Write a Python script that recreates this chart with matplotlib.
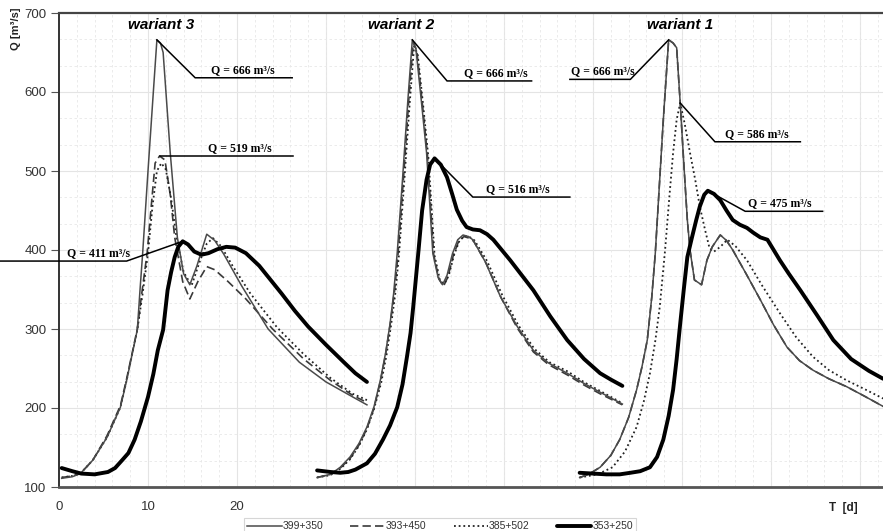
import matplotlib
matplotlib.use("Agg")
import matplotlib.pyplot as plt
import numpy as np
from matplotlib.ticker import MultipleLocator, FixedLocator

# ---------------- data (T [d], Q [m3/s]) ----------------
# wariant 3
w3_t_399 = [0.3, 1.5, 2.4, 3.8, 5.4, 6.9, 7.6, 8.8, 9.1, 9.4, 10.0, 10.6, 11.0, 11.4, 11.7, 12.5, 13.3, 14.0, 14.7, 15.5, 16.6, 17.5, 18.5, 20.5, 23.5, 27.0, 30.0, 33.0, 34.6]
w3_q_399 = [111, 113, 117, 134, 163, 201, 235, 299, 349, 396, 500, 600, 666, 662, 650, 523, 416, 370, 356, 380, 420, 412, 395, 355, 300, 258, 233, 214, 204]
w3_t_393 = [0.3, 1.5, 2.4, 3.8, 5.4, 6.9, 7.6, 8.8, 9.3, 9.9, 10.4, 10.8, 11.3, 11.9, 12.5, 13.0, 13.9, 14.7, 15.6, 16.6, 17.5, 19.0, 21.0, 24.0, 27.5, 30.5, 33.0, 34.6]
w3_q_393 = [112, 114, 117, 134, 165, 203, 237, 300, 345, 396, 460, 510, 519, 514, 470, 416, 360, 338, 360, 379, 375, 360, 338, 300, 262, 235, 216, 207]
w3_t_385 = [0.3, 1.5, 2.4, 3.8, 5.4, 6.9, 7.6, 8.8, 9.4, 10.0, 10.5, 11.0, 11.5, 12.0, 12.6, 13.2, 14.0, 14.9, 15.8, 16.6, 17.3, 18.2, 19.5, 21.5, 24.5, 27.5, 30.5, 33.0, 34.6]
w3_q_385 = [112, 114, 117, 134, 163, 201, 235, 299, 345, 396, 455, 500, 510, 502, 465, 416, 372, 355, 385, 408, 415, 405, 380, 345, 302, 268, 238, 218, 210]
w3_t_353 = [0.3, 1.5, 2.5, 4.0, 5.5, 6.3, 7.1, 7.8, 8.5, 9.2, 10.0, 10.6, 11.1, 11.7, 12.2, 12.6, 13.0, 13.4, 13.9, 14.5, 15.2, 16.0, 16.8, 17.8, 18.8, 19.8, 21.0, 22.5, 23.5, 25.0, 26.5, 28.0, 30.0, 32.0, 33.3, 34.6]
w3_q_353 = [124, 120, 117, 116, 119, 124, 134, 143, 160, 183, 214, 243, 273, 299, 349, 372, 391, 404, 411, 407, 398, 394, 396, 401, 404, 403, 396, 380, 366, 345, 323, 303, 280, 258, 244, 233]

# wariant 2
w2_t_399 = [29.0, 30.5, 31.6, 32.7, 33.7, 34.6, 35.4, 36.1, 36.7, 37.2, 37.6, 38.0, 38.6, 39.2, 39.7, 40.1, 40.7, 41.3, 42.0, 42.6, 43.1, 43.6, 44.2, 44.8, 45.4, 46.0, 46.5, 47.9, 49.6, 51.5, 53.3, 55.0, 57.1, 59.0, 60.8, 63.3]
w2_q_399 = [112, 116, 125, 138, 155, 176, 202, 235, 270, 307, 345, 396, 490, 590, 666, 655, 590, 523, 396, 365, 356, 368, 395, 413, 419, 417, 413, 385, 341, 303, 273, 257, 244, 231, 220, 205]
w2_t_393 = [29.0, 30.5, 31.6, 32.7, 33.7, 34.6, 35.4, 36.1, 36.7, 37.2, 37.7, 38.1, 38.7, 39.3, 39.8, 40.2, 40.8, 41.4, 42.1, 42.7, 43.2, 43.7, 44.3, 44.9, 45.5, 46.1, 46.6, 48.0, 49.7, 51.5, 53.3, 55.0, 57.1, 59.0, 60.8, 63.3]
w2_q_393 = [112, 116, 124, 136, 153, 174, 200, 233, 268, 305, 348, 396, 490, 590, 663, 652, 588, 520, 394, 363, 354, 366, 393, 411, 417, 415, 411, 383, 339, 301, 271, 255, 242, 229, 218, 204]
w2_t_385 = [29.0, 30.5, 31.6, 32.7, 33.7, 34.6, 35.4, 36.2, 36.8, 37.3, 37.8, 38.2, 38.8, 39.4, 39.9, 40.3, 40.9, 41.5, 42.2, 42.8, 43.3, 43.8, 44.4, 45.0, 45.6, 46.2, 46.7, 48.1, 49.8, 51.6, 53.4, 55.1, 57.2, 59.1, 60.9, 63.3]
w2_q_385 = [112, 115, 123, 135, 152, 173, 199, 232, 267, 304, 346, 394, 488, 585, 658, 648, 585, 518, 393, 362, 357, 368, 394, 412, 418, 416, 412, 386, 343, 305, 275, 258, 246, 232, 221, 206]
w2_t_353 = [29.0, 30.5, 31.6, 32.5, 33.3, 34.6, 35.5, 36.4, 37.2, 38.0, 38.6, 39.1, 39.5, 39.8, 40.4, 40.8, 41.3, 41.7, 42.2, 42.9, 43.6, 44.2, 44.7, 45.3, 45.8, 46.5, 47.3, 48.1, 48.8, 50.7, 52.0, 53.3, 55.2, 57.1, 59.0, 60.8, 62.0, 63.3]
w2_q_353 = [121, 119, 118, 119, 122, 130, 142, 160, 178, 201, 230, 265, 295, 328, 400, 450, 489, 508, 516, 508, 492, 470, 451, 437, 429, 426, 425, 420, 413, 387, 368, 349, 316, 286, 262, 244, 236, 228]

# wariant 1
w1_t_399 = [58.5, 59.5, 60.8, 62.0, 63.0, 64.0, 64.9, 65.5, 66.1, 66.6, 67.0, 67.5, 67.9, 68.5, 69.0, 69.4, 69.8, 70.2, 70.6, 70.9, 71.4, 72.2, 72.8, 73.4, 74.3, 75.0, 75.7, 77.2, 78.8, 80.3, 81.8, 83.2, 84.7, 86.5, 88.5, 90.5, 92.6]
w1_q_399 = [112, 116, 125, 140, 160, 188, 223, 252, 286, 340, 396, 490, 565, 666, 662, 656, 586, 510, 438, 400, 362, 356, 387, 404, 419, 412, 400, 370, 337, 305, 277, 260, 248, 237, 227, 215, 202]
w1_t_393 = [58.5, 59.5, 60.8, 62.0, 63.0, 64.0, 64.9, 65.5, 66.1, 66.6, 67.0, 67.5, 67.9, 68.5, 69.0, 69.4, 69.8, 70.2, 70.6, 70.9, 71.4, 72.2, 72.8, 73.4, 74.3, 75.0, 75.7, 77.2, 78.8, 80.3, 81.8, 83.2, 84.7, 86.5, 88.5, 90.5, 92.6]
w1_q_393 = [112, 116, 125, 140, 160, 188, 223, 252, 286, 340, 396, 490, 565, 666, 662, 656, 586, 510, 438, 400, 362, 356, 387, 404, 419, 412, 400, 370, 337, 305, 277, 260, 248, 237, 227, 215, 202]
w1_t_385 = [58.5, 60.5, 62.2, 63.6, 64.9, 65.7, 66.4, 67.0, 67.5, 68.1, 68.6, 69.0, 69.4, 69.8, 70.3, 70.9, 71.5, 72.0, 72.6, 73.1, 73.6, 74.3, 75.1, 76.0, 77.3, 79.0, 81.0, 82.8, 84.7, 86.5, 88.5, 90.5, 92.6]
w1_q_385 = [112, 116, 125, 145, 176, 208, 244, 285, 328, 400, 470, 523, 565, 586, 560, 523, 488, 455, 425, 402, 398, 404, 413, 405, 387, 355, 320, 290, 265, 248, 235, 224, 212]
w1_t_353 = [58.5, 60.0, 61.5, 63.0, 64.2, 65.3, 66.4, 67.2, 67.9, 68.5, 69.0, 69.4, 69.8, 70.2, 70.6, 71.1, 71.6, 72.0, 72.5, 72.9, 73.6, 74.3, 75.0, 75.7, 76.5, 77.3, 78.0, 78.8, 79.6, 81.0, 82.0, 83.3, 85.2, 87.0, 89.0, 91.0, 92.6]
w1_q_353 = [118, 117, 116, 116, 118, 120, 125, 138, 160, 190, 223, 262, 307, 350, 391, 415, 438, 455, 470, 475, 471, 463, 450, 438, 432, 428, 422, 416, 413, 387, 370, 349, 317, 286, 262, 247, 237]

series_labels = ["399+350", "393+450", "385+502", "353+250"]
variant_labels = ["wariant 3", "wariant 2", "wariant 1"]
x_tick_values = [0, 10, 20]
y_tick_values = [100, 200, 300, 400, 500, 600, 700]

# ---------------- figure ----------------
W, H = 883, 531
fig = plt.figure(figsize=(W / 100, H / 100), dpi=100)
ax = fig.add_axes([59 / W, 44 / H, 1 - 59 / W, (487 - 13) / H])

styles = {
    "399+350": dict(color="#4a4a4a", lw=1.1, ls="-"),
    "393+450": dict(color="#3a3a3a", lw=1.2, ls=(0, (5, 2.5))),
    "385+502": dict(color="#222222", lw=1.3, ls=(0, (1, 1.6))),
    "353+250": dict(color="black", lw=2.8, ls="-", solid_capstyle="round"),
}

data = {
    "399+350": [(w3_t_399, w3_q_399), (w2_t_399, w2_q_399), (w1_t_399, w1_q_399)],
    "393+450": [(w3_t_393, w3_q_393), (w2_t_393, w2_q_393), (w1_t_393, w1_q_393)],
    "385+502": [(w3_t_385, w3_q_385), (w2_t_385, w2_q_385), (w1_t_385, w1_q_385)],
    "353+250": [(w3_t_353, w3_q_353), (w2_t_353, w2_q_353), (w1_t_353, w1_q_353)],
}

order = ["393+450", "385+502", "399+350", "353+250"]
handles = {}
for lab in order:
    for i, (t, q) in enumerate(data[lab]):
        ln, = ax.plot(t, q, label=lab if i == 0 else None, zorder=3 if lab != "353+250" else 4,
                      **styles[lab])
        if i == 0:
            handles[lab] = ln

ax.set_xlim(0, (W - 59) / 8.9)
ax.set_ylim(100, 700)

# grid
ax.xaxis.set_major_locator(FixedLocator(x_tick_values))
ax.set_xticklabels([str(v) for v in x_tick_values])
ax.yaxis.set_major_locator(FixedLocator(y_tick_values))
for xv in np.arange(10, 100, 10):
    ax.axvline(xv, color="#e4e4e4", lw=0.8, zorder=0)
for yv in y_tick_values[1:-1]:
    ax.axhline(yv, color="#e4e4e4", lw=0.8, zorder=0)
ax.xaxis.set_minor_locator(MultipleLocator(2))
ax.yaxis.set_minor_locator(MultipleLocator(100 / 3))
ax.grid(which="minor", color="#e8e8e8", lw=0.6, ls=(0, (3, 3)), zorder=0)
ax.tick_params(axis="x", which="both", length=0, labelsize=9.5, labelcolor="#333333", pad=10)
ax.tick_params(axis="y", which="major", length=6, width=0.8, color="#555555", labelsize=9.5,
               labelcolor="#333333", pad=3)
ax.tick_params(axis="y", which="minor", length=0)
for lab in ax.get_xticklabels() + ax.get_yticklabels():
    lab.set_fontfamily("Liberation Sans")

ax.spines["right"].set_visible(False)
ax.spines["left"].set_color("#333333")
ax.spines["left"].set_linewidth(1.4)
ax.spines["bottom"].set_color("#555555")
ax.spines["bottom"].set_linewidth(2.0)
ax.spines["top"].set_color("#444444")
ax.spines["top"].set_linewidth(1.6)

# variant titles
variant_x = [11.5, 38.4, 69.8]
for lbl, xv in zip(variant_labels, variant_x):
    ax.text(xv, 685, lbl, ha="center", va="center", fontsize=11, fontweight="bold",
            fontstyle="italic", family="Liberation Sans")

# annotations: (series, variant index, elbow (t, Q), line end t, text centre t)
annots = [
    ("399+350", 0, (15.3, 618), 26.2, 20.7),
    ("393+450", 0, None, 26.3, 20.3),
    ("353+250", 0, (7.6, 386), -6.6, 4.4),
    ("399+350", 1, (43.6, 614), 53.1, 49.1),
    ("353+250", 1, (46.5, 467), 57.4, 51.6),
    ("399+350", 2, (64.2, 616), 57.4, 61.1),
    ("385+502", 2, (73.7, 537), 83.3, 78.4),
    ("353+250", 2, (77.1, 449), 85.8, 81.0),
]
for lab, vi, elbow, tend, tc in annots:
    t, q = data[lab][vi]
    k = int(np.argmax(q))
    pt, pq = t[k], q[k]
    if elbow is None:
        elbow = (pt, pq)
    ax.plot([pt, elbow[0], tend], [pq, elbow[1], elbow[1]], color="black", lw=1.1,
            clip_on=False, zorder=5, solid_joinstyle="miter")
    ax.annotate(f"Q = {pq} m³/s", xy=(tc, elbow[1]), xytext=(0, 1.5), textcoords="offset points",
                ha="center", va="bottom", fontsize=8.5, fontweight="bold",
                family="Liberation Serif", zorder=6, annotation_clip=False)

# axis labels
fig.text(16 / W, 1 - 29 / H, "Q [m³/s]", rotation=90, ha="center", va="center", fontsize=8,
         fontweight="bold", family="Liberation Sans", color="#222222")
fig.text(843 / W, 1 - 508 / H, "T  [d]", ha="center", va="center", fontsize=8.5,
         fontweight="bold", family="Liberation Sans", color="#222222")

# legend
leg = fig.legend([handles[s] for s in series_labels], series_labels, loc="upper center",
                 bbox_to_anchor=(440 / W, 1 - 513 / H), ncol=4, frameon=True, fancybox=False,
                 handlelength=3.3, handletextpad=0.1, columnspacing=2.6,
                 borderpad=0.3, prop={"family": "Liberation Sans", "size": 7.5})
leg.get_frame().set_edgecolor("#cccccc")
leg.get_frame().set_linewidth(0.8)
for txt in leg.get_texts():
    txt.set_color("#333333")

fig.savefig("out.png", dpi=100)
